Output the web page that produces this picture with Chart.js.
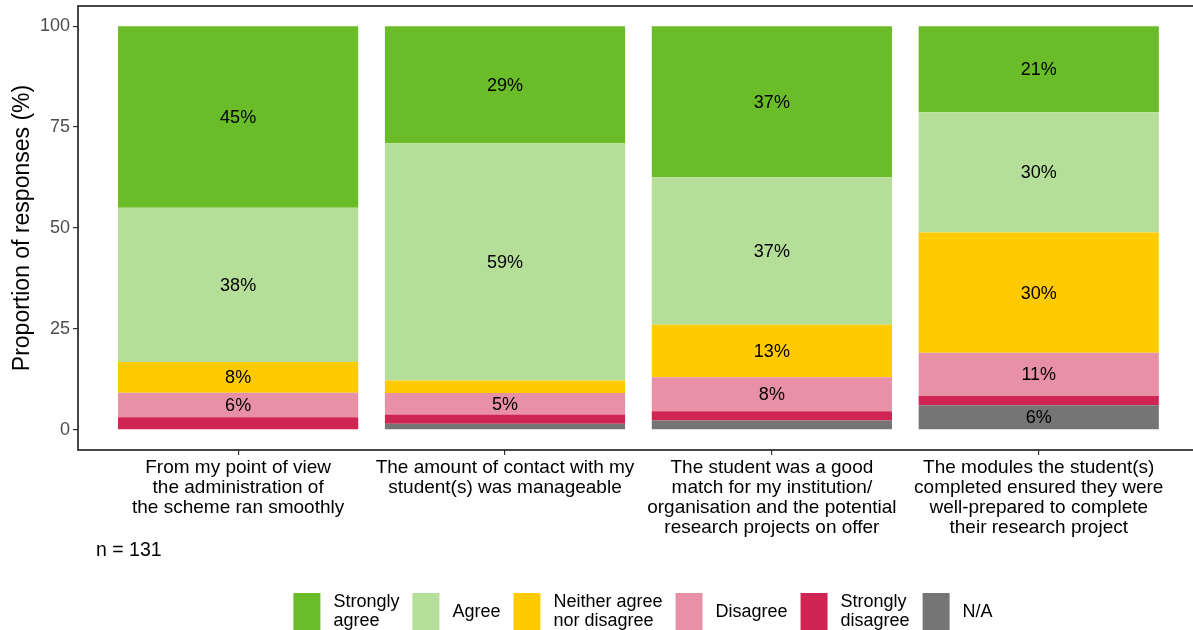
<!DOCTYPE html>
<html>
<head>
<meta charset="utf-8">
<title>Supervisor survey responses</title>
<script src="https://cdn.jsdelivr.net/npm/chart.js@4/dist/chart.umd.min.js"></script>
<style>
  html, body { margin: 0; padding: 0; background: #ffffff; }
  canvas { display: block; }
</style>
</head>
<body>
<canvas id="chart" width="1193" height="630"></canvas>
<script>
// Survey statements (x categories), each split over lines as printed
const questions = [
  ["From my point of view", "the administration of", "the scheme ran smoothly"],
  ["The amount of contact with my", "student(s) was manageable"],
  ["The student was a good", "match for my institution/", "organisation and the potential", "research projects on offer"],
  ["The modules the student(s)", "completed ensured they were", "well-prepared to complete", "their research project"]
];

// Share of responses (%) per statement, n = 131
const stronglyAgree    = [45.0, 29.0, 37.4, 21.3];
const agree            = [38.2, 58.8, 36.6, 29.8];
const neither          = [7.6, 3.1, 13.0, 29.8];
const disagree         = [6.1, 5.3, 8.4, 10.7];
const stronglyDisagree = [3.1, 2.3, 2.3, 2.3];
const notApplicable    = [0.0, 1.5, 2.3, 6.1];

const yTicks = [0, 25, 50, 75, 100];
const sampleNote = "n = 131";

// Stacked from the bottom up; legend lists them top-down
const series = [
  { name: ["N/A"],                        values: notApplicable,    color: "#757575" },
  { name: ["Strongly", "disagree"],       values: stronglyDisagree, color: "#d02453" },
  { name: ["Disagree"],                   values: disagree,         color: "#e891a6" },
  { name: ["Neither agree", "nor disagree"], values: neither,       color: "#ffcb00" },
  { name: ["Agree"],                      values: agree,            color: "#b5df99" },
  { name: ["Strongly", "agree"],          values: stronglyAgree,    color: "#6abd28" }
];

const FONT = "'Liberation Sans', Arial, Helvetica, sans-serif";
Chart.defaults.font.family = FONT;
Chart.defaults.font.size = 18;
Chart.defaults.color = "#000000";

// White page behind everything
const background = {
  id: "background",
  beforeDraw(chart) {
    const c = chart.ctx;
    c.save();
    c.fillStyle = "#ffffff";
    c.fillRect(0, 0, chart.width, chart.height);
    c.restore();
  }
};

// Percentage printed in the middle of each segment of 5% or more
const segmentLabels = {
  id: "segmentLabels",
  afterDatasetsDraw(chart) {
    const c = chart.ctx;
    c.save();
    c.font = "18px " + FONT;
    c.fillStyle = "#000000";
    c.textAlign = "center";
    c.textBaseline = "middle";
    chart.data.datasets.forEach((ds, di) => {
      const meta = chart.getDatasetMeta(di);
      meta.data.forEach((bar, i) => {
        const v = ds.data[i].y;
        if (v < 5) return;
        c.fillText(Math.round(v) + "%", bar.x, (bar.y + bar.base) / 2 + 1);
      });
    });
    c.restore();
  }
};

// Panel frame, sample-size note and the horizontal legend under the plot
const frameAndLegend = {
  id: "frameAndLegend",
  afterDraw(chart) {
    const c = chart.ctx;
    const a = chart.chartArea;
    c.save();
    c.strokeStyle = "#1a1a1a";
    c.lineWidth = 1.6;
    c.strokeRect(a.left, a.top, a.right + 6 - a.left, a.bottom - a.top);

    c.fillStyle = "#000000";
    c.font = "19.5px " + FONT;
    c.textAlign = "left";
    c.textBaseline = "middle";
    c.fillText(sampleNote, 96, 551);

    // legend: box, gap, text, gap ...
    c.font = "18px " + FONT;
    const boxW = 27, boxH = 38, gap = 13, lineH = 19;
    const items = series.slice().reverse();
    const widths = items.map(s => Math.max(...s.name.map(t => c.measureText(t).width)));
    const total = widths.reduce((sum, w) => sum + boxW + gap + w, 0) + gap * (items.length - 1);
    let x = 643 - total / 2;
    const boxTop = 593, midY = 612;
    items.forEach((s, k) => {
      c.fillStyle = s.color;
      c.fillRect(x, boxTop, boxW, boxH);
      c.fillStyle = "#000000";
      const tx = x + boxW + gap;
      const n = s.name.length;
      s.name.forEach((t, j) => {
        c.fillText(t, tx, midY + (j - (n - 1) / 2) * lineH);
      });
      x = tx + widths[k] + gap;
    });
    c.restore();
  }
};

new Chart(document.getElementById("chart"), {
  type: "bar",
  data: {
    datasets: series.map(s => ({
      label: s.name.join(" "),
      data: s.values.map((v, i) => ({ x: i, y: v })),
      backgroundColor: s.color,
      borderWidth: 0,
      barPercentage: 0.9,
      categoryPercentage: 1.0
    }))
  },
  options: {
    responsive: false,
    animation: false,
    devicePixelRatio: 1,
    layout: { padding: { left: 0, top: 6, right: 0, bottom: 0 } },
    plugins: {
      legend: { display: false },
      tooltip: { enabled: false }
    },
    scales: {
      x: {
        type: "linear",
        stacked: true,
        offset: false,
        min: -0.6,
        max: 3.578,
        afterBuildTicks: s => { s.ticks = questions.map((q, i) => ({ value: i })); },
        afterFit: s => { s.height = 180; s.paddingLeft = 0; s.paddingRight = 0; },
        ticks: {
          autoSkip: false,
          maxRotation: 0,
          minRotation: 0,
          padding: 3,
          color: "#000000",
          font: { size: 19, lineHeight: 1.053 },
          callback: v => questions[v]
        },
        grid: { drawOnChartArea: false, drawTicks: true, tickLength: 5, color: "#333333", lineWidth: 1.2, offset: false },
        border: { display: false }
      },
      y: {
        stacked: true,
        min: -5,
        max: 105,
        afterBuildTicks: s => { s.ticks = yTicks.map(v => ({ value: v })); },
        afterFit: s => { s.width = 78; s.paddingTop = 0; s.paddingBottom = 0; },
        ticks: {
          padding: 3,
          color: "#4d4d4d",
          font: { size: 18 }
        },
        grid: { drawOnChartArea: false, drawTicks: true, tickLength: 5, color: "#333333", lineWidth: 1.2 },
        border: { display: false },
        title: {
          display: true,
          text: "Proportion of responses (%)",
          color: "#000000",
          font: { size: 23 },
          padding: { top: 9, bottom: 0 }
        }
      }
    }
  },
  plugins: [background, segmentLabels, frameAndLegend]
});
</script>
</body>
</html>
